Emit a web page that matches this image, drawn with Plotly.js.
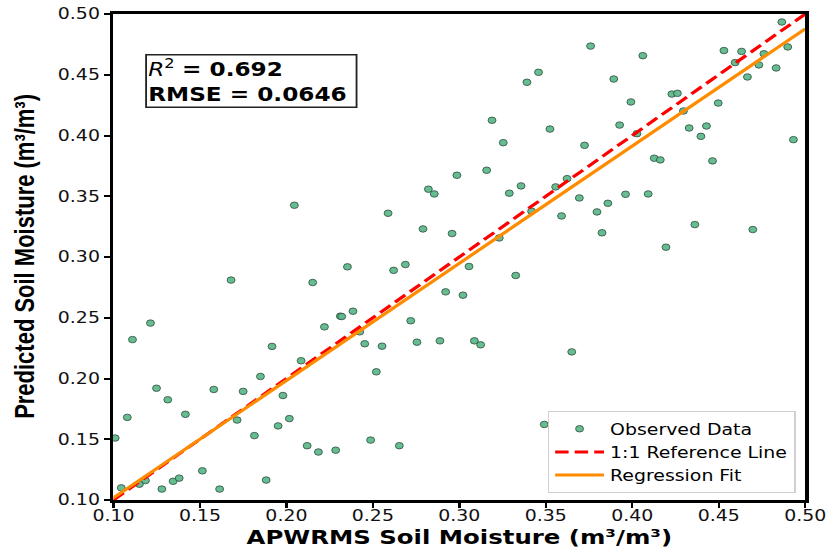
<!DOCTYPE html>
<html>
<head>
<meta charset="utf-8">
<script src="https://cdn.plot.ly/plotly-3.0.1.min.js"></script>
<style>
html,body{margin:0;padding:0;background:#fff;overflow:hidden;}
#wrap{width:832px;height:548px;overflow:hidden;}
#chart{width:682px;height:548px;transform:scaleX(1.22);transform-origin:0 0;}
</style>
</head>
<body>
<div id="wrap"><div id="chart"></div></div>
<script>
// Observed APWRMS soil moisture (x) and predicted soil moisture (y)
const observedX = [
  0.101, 0.1045, 0.108, 0.111, 0.1214, 0.115, 0.1185, 0.1249, 0.1314, 0.128,
  0.1345, 0.138, 0.1416, 0.1514, 0.158, 0.1614, 0.168, 0.175, 0.1715, 0.1815,
  0.185, 0.1917, 0.1883, 0.198, 0.1952, 0.2017, 0.2085, 0.2152, 0.222, 0.2312,
  0.212, 0.2185, 0.2285, 0.2046,
  0.2353, 0.262, 0.2688, 0.3056, 0.3326, 0.232, 0.2385, 0.2424, 0.2453, 0.2553,
  0.2719, 0.2921, 0.3021, 0.2755, 0.2888, 0.3087, 0.3123, 0.2520, 0.2487, 0.2653,
  0.3491, 0.3650,
  0.2588, 0.279, 0.2958, 0.2821, 0.2855, 0.2986, 0.3158, 0.3189, 0.3254, 0.3289,
  0.3357, 0.3391, 0.3458, 0.3524, 0.3231, 0.3418, 0.3557, 0.3591, 0.3623,
  0.3759, 0.4061, 0.3893, 0.3992, 0.4229, 0.4261, 0.3927, 0.4027, 0.3724, 0.4296,
  0.4329, 0.4429, 0.4397, 0.4497, 0.453, 0.4632, 0.4595, 0.4761, 0.4732, 0.4666,
  0.4832, 0.4865, 0.4899, 0.4932, 0.4127, 0.4162, 0.4464, 0.3694, 0.3796, 0.3859,
  0.3961, 0.4092, 0.3825, 0.4362, 0.4697, 0.4195
];
const predictedY = [
  0.151, 0.110, 0.168, 0.232, 0.2456, 0.113, 0.116, 0.192, 0.1825, 0.109,
  0.1154, 0.118, 0.1705, 0.124, 0.191, 0.109, 0.281, 0.1894, 0.1658, 0.153,
  0.2017, 0.2264, 0.1164, 0.186, 0.161, 0.167, 0.2146, 0.279, 0.2425, 0.2513,
  0.1447, 0.1395, 0.141, 0.3426,
  0.2919, 0.289, 0.2938, 0.2922, 0.2848, 0.251, 0.2554, 0.2384, 0.2286, 0.2266,
  0.2475, 0.2713, 0.2686, 0.2299, 0.231, 0.231, 0.2277, 0.2055, 0.1493, 0.1447,
  0.1622, 0.2219,
  0.336, 0.3231, 0.3193, 0.3558, 0.3519, 0.3673, 0.3714, 0.4125, 0.3941, 0.3525,
  0.3585, 0.4438, 0.452, 0.4053, 0.3157, 0.3377, 0.3577, 0.3338, 0.3645,
  0.4736, 0.4657, 0.4465, 0.4276, 0.4341, 0.4347, 0.4086, 0.4015, 0.3919, 0.4202,
  0.4062, 0.4078, 0.3993, 0.4267, 0.4699, 0.4692, 0.4600, 0.4673, 0.4581, 0.4482,
  0.4556, 0.4934, 0.4729, 0.3966, 0.3813, 0.3799, 0.3791, 0.3486, 0.3371, 0.3442,
  0.3516, 0.3519, 0.3199, 0.3267, 0.3226, 0.3081
];
// Reference 1:1 line and regression fit (slope/intercept)
const lineX = [0.10, 0.50];
const fitSlope = 0.965;
const fitIntercept = 0.0053;
const r2Text = "0.692";
const rmseText = "0.0646";
const tickVals = [0.10, 0.15, 0.20, 0.25, 0.30, 0.35, 0.40, 0.45, 0.50];
const tickText = ["0.10", "0.15", "0.20", "0.25", "0.30", "0.35", "0.40", "0.45", "0.50"];
const seriesNames = ["Observed Data", "1:1 Reference Line", "Regression Fit"];
const xTitle = "APWRMS Soil Moisture (m³/m³)";
const yTitle = "Predicted Soil Moisture (m³/m³)";

const fitY = lineX.map(x => fitSlope * x + fitIntercept);

const traces = [
  {
    x: observedX, y: predictedY, type: 'scatter', mode: 'markers', name: seriesNames[0],
    marker: {color: '#5dba8c', size: 6.5, opacity: 0.95, line: {color: '#2f4f3f', width: 0.8}},
    cliponaxis: false
  },
  {
    x: lineX, y: lineX, type: 'scatter', mode: 'lines', name: seriesNames[1],
    line: {color: '#ff0000', width: 3, dash: '11px,5px'}
  },
  {
    x: lineX, y: fitY, type: 'scatter', mode: 'lines', name: seriesNames[2],
    line: {color: '#ff8c00', width: 3}
  }
];

const axisCommon = {
  range: [0.10, 0.50], tickvals: tickVals, ticktext: tickText,
  showline: true, mirror: true, linecolor: '#000', linewidth: 3,
  ticks: 'outside', ticklen: 5, tickwidth: 2, tickcolor: '#000',
  showgrid: false, zeroline: false,
  tickfont: {family: 'DejaVu Sans', size: 15.5, color: '#111'}
};

const layout = {
  width: 682, height: 548,
  margin: {l: 93, r: 22, t: 14, b: 48},
  paper_bgcolor: '#fff', plot_bgcolor: '#fff',
  font: {family: 'DejaVu Sans', color: '#000'},
  xaxis: Object.assign({}, axisCommon, {ticklabelstandoff: -6}),
  yaxis: Object.assign({}, axisCommon),
  showlegend: true,
  legend: {
    x: 0.986, y: 0.014, xanchor: 'right', yanchor: 'bottom',
    bgcolor: 'rgba(255,255,255,0.9)', bordercolor: '#d0d0d0', borderwidth: 1,
    font: {family: 'DejaVu Sans', size: 15.5, color: '#000'},
    tracegroupgap: 0, itemwidth: 40
  },
  annotations: [
    {
      xref: 'paper', yref: 'paper', x: 0.045, y: 0.918, xanchor: 'left', yanchor: 'top',
      text: '<i>R</i><sup>2</sup> <b>= ' + r2Text + '</b><br><b>RMSE = ' + rmseText + '</b> ',
      align: 'left', showarrow: false,
      font: {family: 'DejaVu Sans', size: 19, color: '#000'},
      bgcolor: '#fff', bordercolor: '#222', borderwidth: 1.5, borderpad: 1
    },
    {
      xref: 'paper', yref: 'paper', x: 0.5, y: 0, xanchor: 'center', yanchor: 'middle',
      yshift: -37, showarrow: false, text: '<b>' + xTitle + '</b>',
      font: {family: 'DejaVu Sans', size: 20, color: '#000'}
    },
    {
      xref: 'paper', yref: 'paper', x: 0, y: 0.5, xanchor: 'center', yanchor: 'middle',
      xshift: -73, textangle: -90, showarrow: false, text: '<b>' + yTitle + '</b>',
      font: {family: 'Liberation Sans', size: 22, color: '#000'}
    }
  ]
};

Plotly.newPlot('chart', traces, layout, {displayModeBar: false, staticPlot: true});
</script>
</body>
</html>
